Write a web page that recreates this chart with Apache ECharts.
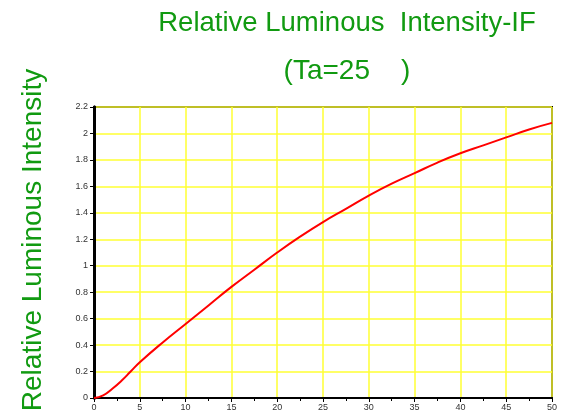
<!DOCTYPE html>
<html>
<head>
<meta charset="utf-8">
<script src="https://cdn.jsdelivr.net/npm/echarts@6/dist/echarts.min.js"></script>
<style>
  html, body { margin: 0; padding: 0; background: #fff; }
  #chart { width: 564px; height: 417px; }
</style>
</head>
<body>
<div id="chart"></div>
<script>
// forward current IF (mA) vs relative luminous intensity
const currentIF = [0, 1, 2, 3, 4, 5, 7.5, 10, 12.5, 15, 17.5, 20, 22.5, 25, 27.5, 30, 32.5, 35, 37.5, 40, 42.5, 45, 47.5, 50]
const intensity = [0, 0.02, 0.07, 0.13, 0.2, 0.27, 0.42, 0.56, 0.7, 0.84, 0.97, 1.1, 1.22, 1.33, 1.43, 1.53, 1.62, 1.7, 1.78, 1.85, 1.91, 1.97, 2.03, 2.08]
const titleLines = ['Relative Luminous  Intensity-IF', '(Ta=25    )']
const yName = 'Relative Luminous Intensity'

const green = '#119a11'
const gridYellow = '#ffff33'
const chart = echarts.init(document.getElementById('chart'))

chart.setOption({
  animation: false,
  title: [
    {text: titleLines[0], left: 342, top: 4, textAlign: 'center',
      textStyle: {color: green, fontFamily: 'Liberation Sans', fontSize: 27.5, fontWeight: 'normal'}},
    {text: titleLines[1], left: 342, top: 52, textAlign: 'center',
      textStyle: {color: green, fontFamily: 'Liberation Sans', fontSize: 28, fontWeight: 'normal'}}
  ],
  graphic: [{
    type: 'text', x: 33, y: 240, rotation: Math.PI / 2,
    style: {text: yName, fill: green, font: '28px "Liberation Sans"', align: 'center', verticalAlign: 'middle'}
  }],
  grid: {left: 94, right: 12, top: 107, bottom: 19, show: true, borderColor: '#000', borderWidth: 2},
  xAxis: [{
    type: 'value', min: 0, max: 50, interval: 5,
    axisLine: {lineStyle: {color: '#000', width: 2}},
    axisTick: {length: 4, lineStyle: {color: '#000'}},
    minorTick: {show: true, splitNumber: 2, length: 3, lineStyle: {color: '#000'}},
    axisLabel: {color: '#333', fontSize: 9, fontFamily: 'Liberation Sans', margin: 5},
    splitLine: {show: true, lineStyle: {color: gridYellow, width: 1.5}}
  }, {
    // top border line
    type: 'value', position: 'top', min: 0, max: 50,
    axisLine: {show: true, lineStyle: {color: '#000', width: 2}},
    axisTick: {show: false}, axisLabel: {show: false}, splitLine: {show: false}
  }],
  yAxis: [{
    type: 'value', min: 0, max: 2.2, interval: 0.2,
    axisLine: {show: true, lineStyle: {color: '#000', width: 3}},
    axisTick: {show: true, length: 4, lineStyle: {color: '#000'}},
    axisLabel: {color: '#333', fontSize: 9, fontFamily: 'Liberation Sans', margin: 6,
      formatter: v => String(Math.round(v * 10) / 10)},
    splitLine: {show: true, lineStyle: {color: gridYellow, width: 1.5}}
  }, {
    // right border line
    type: 'value', position: 'right', min: 0, max: 2.2,
    axisLine: {show: true, lineStyle: {color: '#000', width: 3}},
    axisTick: {show: false}, axisLabel: {show: false}, splitLine: {show: false}
  }],
  series: [{
    type: 'line', smooth: true, symbol: 'none',
    data: currentIF.map((x, i) => [x, intensity[i]]),
    lineStyle: {color: '#ff0000', width: 2}
  }]
})
</script>
</body>
</html>
